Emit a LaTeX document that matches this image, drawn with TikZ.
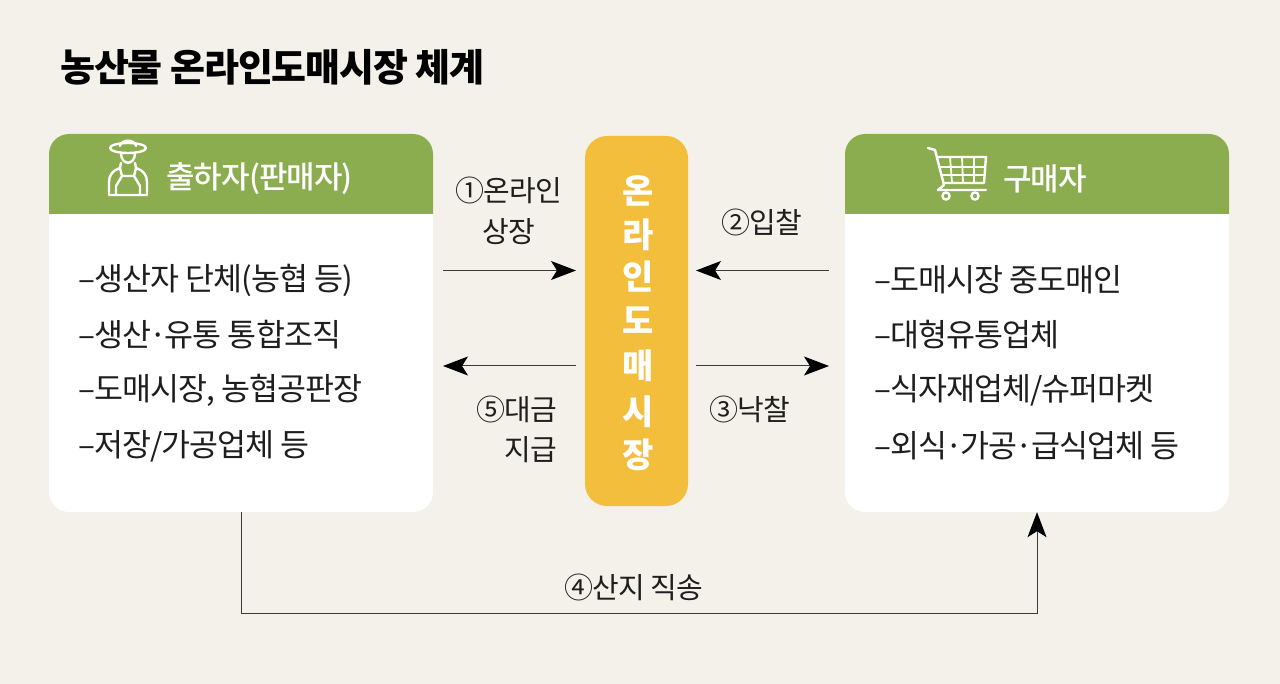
\documentclass[tikz,border=0pt]{standalone}
\usepackage{fontspec}
\setmainfont{Noto Sans CJK KR}[LetterSpace=-3]
\newfontfamily\medf{Noto Sans CJK KR Medium}[LetterSpace=-3]
\usetikzlibrary{arrows.meta}
\definecolor{bgc}{HTML}{F4F1EA}
\definecolor{greenc}{HTML}{8BAD50}
\definecolor{yellowc}{HTML}{F3BE3B}
\definecolor{inkc}{HTML}{1E1E1E}
\definecolor{linec}{HTML}{3A3A3A}
\newcommand{\fsz}[1]{\fontsize{#1pt}{#1pt}\selectfont}
\newcommand{\tdot}{\hspace{-2pt}·\hspace{-2pt}}
\tikzset{
  x=1pt,y=-1pt,
  card/.style={fill=white,rounded corners=20pt},
  listtxt/.style={anchor=west,inner sep=0pt,text=inkc,font=\fsz{31.5}},
  headtxt/.style={anchor=west,inner sep=0pt,text=white,font=\fsz{31}\medf},
  lbl/.style={inner sep=0pt,text=inkc,font=\fsz{29},align=center},
  flow/.style={draw=linec,line width=1pt,-{Stealth[length=25pt,width=19pt,inset=6pt,black]}},
  icon/.style={draw=white,line width=2.4pt,line cap=round,line join=round},
}
\begin{document}
\begin{tikzpicture}
\useasboundingbox (0,0) rectangle (1280,684);
\fill[bgc] (0,0) rectangle (1280,684);
\node[anchor=west,inner sep=0pt,text=black,font=\fsz{38}\bfseries] (title) at (60,67) {농산물 온라인도매시장 체계};
% left card
\fill[card] (49,134) rectangle (433,512);
\fill[greenc] (49,214) -- (49,154) .. controls (49,143) and (58,134) .. (69,134) -- (413,134) .. controls (424,134) and (433,143) .. (433,154) -- (433,214) -- cycle;
\node[inner sep=0pt,minimum width=384pt,minimum height=378pt] (seller) at (241,323) {};
\node[headtxt] (sellerhead) at (166,179) {출하자(판매자)};
\node[listtxt] (s1) at (78,280) {–생산자 단체(농협 등)};
\node[listtxt] (s2) at (78,335) {–생산\tdot 유통 통합조직};
\node[listtxt] (s3) at (78,390) {–도매시장, 농협공판장};
\node[listtxt] (s4) at (78,446) {–저장/가공업체 등};
% right card
\fill[card] (845,134) rectangle (1229,512);
\fill[greenc] (845,214) -- (845,154) .. controls (845,143) and (854,134) .. (865,134) -- (1209,134) .. controls (1220,134) and (1229,143) .. (1229,154) -- (1229,214) -- cycle;
\node[inner sep=0pt,minimum width=384pt,minimum height=378pt] (buyer) at (1037,323) {};
\node[headtxt] (buyerhead) at (1003,179) {구매자};
\node[listtxt] (b1) at (874,280) {–도매시장 중도매인};
\node[listtxt] (b2) at (874,335) {–대형유통업체};
\node[listtxt] (b3) at (874,390) {–식자재업체/슈퍼마켓};
\node[listtxt] (b4) at (874,446) {–외식\tdot 가공\tdot 급식업체 등};
% centre
\node[fill=yellowc,rounded corners=22pt,minimum width=103pt,minimum height=370pt,inner sep=0pt] (market) at (636.5,321) {};
\foreach \t/\y in {온/190.5,라/234.5,인/276.5,도/320.5,매/365.5,시/411.5,장/454.5}
  \node[inner sep=0pt,text=white,font=\fsz{34}\bfseries] at (638,\y) {\t};
% arrows
\coordinate (a1s) at (443,270.5); \coordinate (a1e) at (576,270.5);
\coordinate (a2s) at (829,270.5); \coordinate (a2e) at (696,270.5);
\coordinate (a3s) at (696,366); \coordinate (a3e) at (829,366);
\coordinate (a5s) at (576,366); \coordinate (a5e) at (443,366);
\draw[flow] (a1s) -- (a1e);
\draw[flow] (a2s) -- (a2e);
\draw[flow] (a3s) -- (a3e);
\draw[flow] (a5s) -- (a5e);
\node[lbl] (l1a) at (509,190) {①온라인};
\node[lbl] (l1b) at (509,232) {상장};
\node[lbl] (l2) at (762,222) {②입찰};
\node[lbl] (l3) at (750,409) {③낙찰};
\node[lbl,anchor=east] (l5a) at (557.5,409) {⑤대금};
\node[lbl,anchor=east] (l5b) at (557.5,450) {지급};
% direct delivery
\coordinate (d1) at (241,613); \coordinate (d2) at (1037,613);
\draw[flow] (seller.south) -- (d1) -- (d2) -- (buyer.south);
\node[lbl] (l4) at (634,587) {④산지 직송};
% farmer icon
\begin{scope}[icon]
\draw (128,148) ellipse[x radius=18,y radius=5];
\draw (120,146) .. controls (121,139) and (135,139) .. (136,146);
\draw (121,153) .. controls (121,166) and (135,166) .. (135,153);
\draw (121,163) -- (120,168) .. controls (113,170) and (109,175) .. (109,182) -- (109,195) -- (147,195) -- (147,182) .. controls (147,175) and (143,170) .. (136,168) -- (135,163);
\draw (120,168) -- (122,176) -- (134,176) -- (136,168);
\draw (116,195) -- (116,186) -- (122,176);
\draw (140,195) -- (140,186) -- (134,176);
\end{scope}
% cart icon
\begin{scope}[icon]
\draw (928,148) -- (935,150) -- (944,185) -- (938,190) -- (986,190);
\draw (937,157) -- (986,157) -- (984,183) -- (944,183);
\draw[line width=1.8pt] (939,167) -- (985,167);
\draw[line width=1.8pt] (941,175) -- (984,175);
\draw[line width=1.8pt] (950,157) -- (952,183);
\draw[line width=1.8pt] (962,157) -- (963,183);
\draw[line width=1.8pt] (974,157) -- (974,183);
\draw (946,196) circle[radius=3.6];
\draw (975,196) circle[radius=3.6];
\end{scope}
\end{tikzpicture}
\end{document}
